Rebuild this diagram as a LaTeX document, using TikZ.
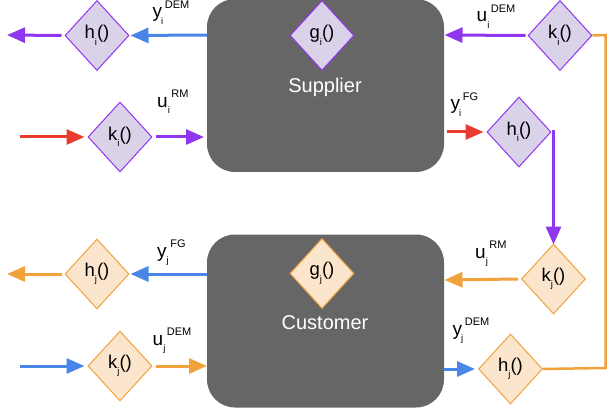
\documentclass[tikz,border=0pt]{standalone}
\usepackage{fontspec}
\setmainfont{Liberation Sans}
\usetikzlibrary{shapes.geometric,arrows.meta}
\definecolor{boxgray}{HTML}{666666}
\definecolor{lav}{HTML}{D9D2E9}
\definecolor{purp}{HTML}{9036F0}
\definecolor{peach}{HTML}{FCE5CD}
\definecolor{orng}{HTML}{F2A23C}
\definecolor{blu}{HTML}{4A86E8}
\definecolor{rd}{HTML}{EA3B2E}
\newcommand{\sbs}[1]{\raisebox{-6.5pt}{\fontsize{9.5}{9.5}\selectfont #1}}
\newcommand{\sps}[1]{\raisebox{9.5pt}{\fontsize{11}{11}\selectfont #1}}
\newcommand{\fn}[2]{#1\sbs{#2}()}
\newcommand{\lbl}[4][0pt]{#2\kern#1\sbs{#3}\kern1.5pt\sps{#4}}
\begin{document}
\begin{tikzpicture}[x=1pt,y=-1pt,
  dia/.style={diamond, draw, line width=1pt, minimum width=64pt, minimum height=70pt, inner sep=0pt, font=\fontsize{18.5}{18.5}\selectfont},
  diai/.style={dia, draw=purp, fill=lav},
  diaj/.style={dia, draw=orng, fill=peach},
  blk/.style={fill=boxgray, rounded corners=28pt},
  arr/.style={line width=3pt, -{Triangle[length=18pt,width=15pt]}},
  link/.style={line width=2.5pt},
  lab/.style={anchor=base west, inner sep=0pt, font=\fontsize{19}{19}\selectfont},
  ttl/.style={anchor=base, inner sep=0pt, text=white, font=\fontsize{20}{20}\selectfont}]
\useasboundingbox (0,0) rectangle (608,409);
% boxes
\fill[blk] (207,-1) rectangle (444,172);
\fill[blk] (207,234.5) rectangle (444,407.5);
\node[ttl] (sup) at (325,93) {Supplier};
\node[ttl] (cus) at (325,329) {Customer};
% coordinates on box edges
\coordinate (sL1) at (207,35);
\coordinate (sL2) at (204,137);
\coordinate (sR1) at (444.5,35);
\coordinate (sR2) at (446.5,132);
\coordinate (cL1) at (207,274);
\coordinate (cL2) at (207,366);
\coordinate (cR1) at (444.5,280);
\coordinate (cR2) at (444,369);
\coordinate (outA) at (7,35);
\coordinate (inA) at (20,137);
\coordinate (outB) at (7,274);
\coordinate (inB) at (20,366);
\coordinate (cornA) at (605.5,35);
\coordinate (cornB) at (605.5,368);
% diamonds
\node[diai] (gi) at (322,35.5) {\fn{g}{i}};
\node[diai] (hiL) at (97,35.5) {\fn{h}{i}};
\node[diai] (kiL) at (120,137) {\fn{k}{i}};
\node[diai] (kiR) at (560,35.5) {\fn{k}{i}};
\node[diai] (hiR) at (519,132) {\fn{h}{i}};
\node[diaj] (gj) at (322,273.5) {\fn{g}{j}};
\node[diaj] (hjL) at (97,274) {\fn{h}{j}};
\node[diaj] (kjL) at (120,366) {\fn{k}{j}};
\node[diaj] (kjR) at (553.5,279) {\fn{k}{j}};
\node[diaj] (hjR) at (510.5,369) {\fn{h}{j}};
% connectors supplier
\draw[arr, blu] (sL1) -- ([xshift=1pt]hiL.east);
\draw[arr, purp] ([xshift=-3pt]hiL.west) -- (outA);
\draw[arr, rd] (inA) -- ([xshift=-3pt]kiL.west);
\draw[arr, purp] ([xshift=3pt]kiL.east) -- (sL2);
\draw[arr, purp] ([xshift=-2pt]kiR.west) -- (sR1);
\draw[arr, rd] (sR2) -- ([xshift=-3pt]hiR.west);
\draw[arr, purp] (hiR.east) -- (hiR.east -| kjR.north) -- ([yshift=-1pt]kjR.north);
% connectors customer
\draw[arr, orng] ([xshift=-3pt]kjR.west) -- (cR1);
\draw[arr, blu] (cL1) -- ([xshift=1pt]hjL.east);
\draw[arr, orng] ([xshift=-3pt]hjL.west) -- (outB);
\draw[arr, blu] (inB) -- ([xshift=-3pt]kjL.west);
\draw[arr, orng] ([xshift=3pt]kjL.east) -- (cL2);
\draw[arr, blu] (cR2) -- ([xshift=-3pt]hjR.west);
% feedback link
\draw[link, orng] (kiR.east) -- (cornA) -- (cornB) -- (hjR.east);
% labels
\node[lab] (l1) at (152.5,18) {\lbl[-1pt]{y}{i}{DEM}};
\node[lab] (l2) at (157,107.5) {\lbl{u}{i}{RM}};
\node[lab] (l3) at (476.5,22) {\lbl{u}{i}{DEM}};
\node[lab] (l4) at (450.5,110) {\lbl[-1pt]{y}{i}{FG}};
\node[lab] (l5) at (157,257) {\lbl{y}{j}{FG}};
\node[lab] (l6) at (475,258) {\lbl{u}{j}{RM}};
\node[lab] (l7) at (152.5,345) {\lbl{u}{j}{DEM}};
\node[lab] (l8) at (452.5,335) {\lbl[-1pt]{y}{j}{DEM}};
\end{tikzpicture}
\end{document}
